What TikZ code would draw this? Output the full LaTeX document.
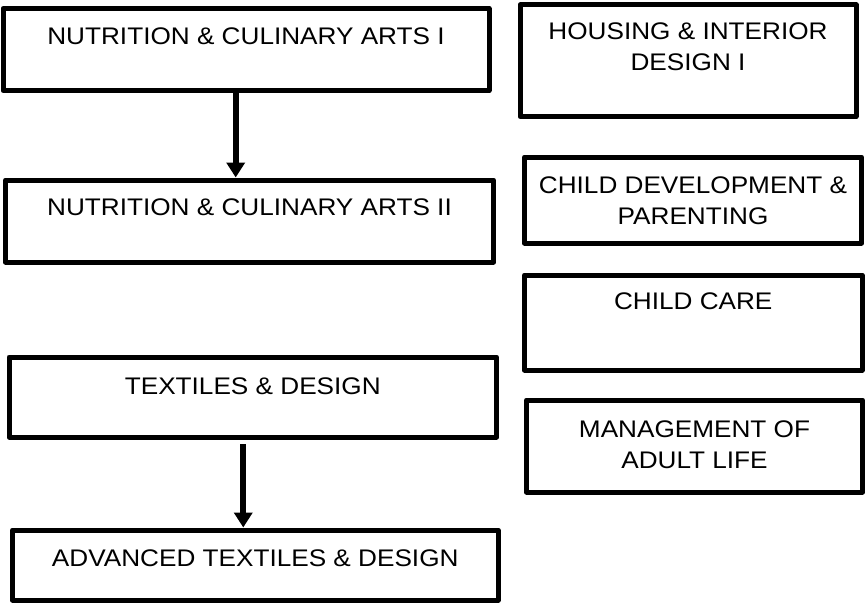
\documentclass[tikz,border=0pt]{standalone}
\usepackage{fontspec}
\setmainfont[FakeStretch=1.09]{Liberation Sans}
\usetikzlibrary{arrows.meta}

\begin{document}
\begin{tikzpicture}[x=1pt,y=-1pt,
		course/.style={draw=black, line width=5pt, line join=round, anchor=north, inner xsep=0pt, inner ysep=0pt, align=center, font=\fontsize{24}{31}\selectfont},
		flow/.style={line width=6pt, -{Triangle[width=18pt,length=15pt]}}]
			\useasboundingbox (0,0) rectangle (866,602);
			\node[course, minimum width=486pt, text height=36pt, text depth=46pt] (nca1) at (246,6) {NUTRITION \& CULINARY ARTS I};
			\node[course, minimum width=488pt, text height=35.5pt, text depth=46.5pt] (nca2) at (249.5,177.5) {NUTRITION \& CULINARY ARTS II};
			\node[course, minimum width=487.5pt, text height=37pt, text depth=43pt] (tex1) at (252.75,354.5) {TEXTILES \& DESIGN};
			\node[course, minimum width=485.5pt, text height=36.5pt, text depth=33.5pt] (tex2) at (255.25,527.5) {ADVANCED TEXTILES \& DESIGN};
			\node[course, minimum width=336pt, text height=65.5pt, text depth=46pt] (hid) at (688,2.5) {HOUSING \& INTERIOR\\DESIGN I};
			\node[course, minimum width=337pt, text height=67pt, text depth=19pt] (cdp) at (693,154.5) {CHILD DEVELOPMENT \&\\PARENTING};
			\node[course, minimum width=337.5pt, text height=34pt, text depth=61pt] (care) at (693.25,272.5) {CHILD CARE};
			\node[course, minimum width=336pt, text height=68pt, text depth=24pt] (mal) at (694.5,397.5) {MANAGEMENT OF\\ADULT LIFE};
			\draw[flow] ([xshift=-10.3pt]nca1.south) -- ([xshift=-10.3pt]nca1.south |- nca2.north);
			\draw[flow, shorten <=4.5pt] ([xshift=-9.5pt]tex1.south) -- ([xshift=-9.5pt]tex1.south |- tex2.north);
		\end{tikzpicture}
\end{document}
